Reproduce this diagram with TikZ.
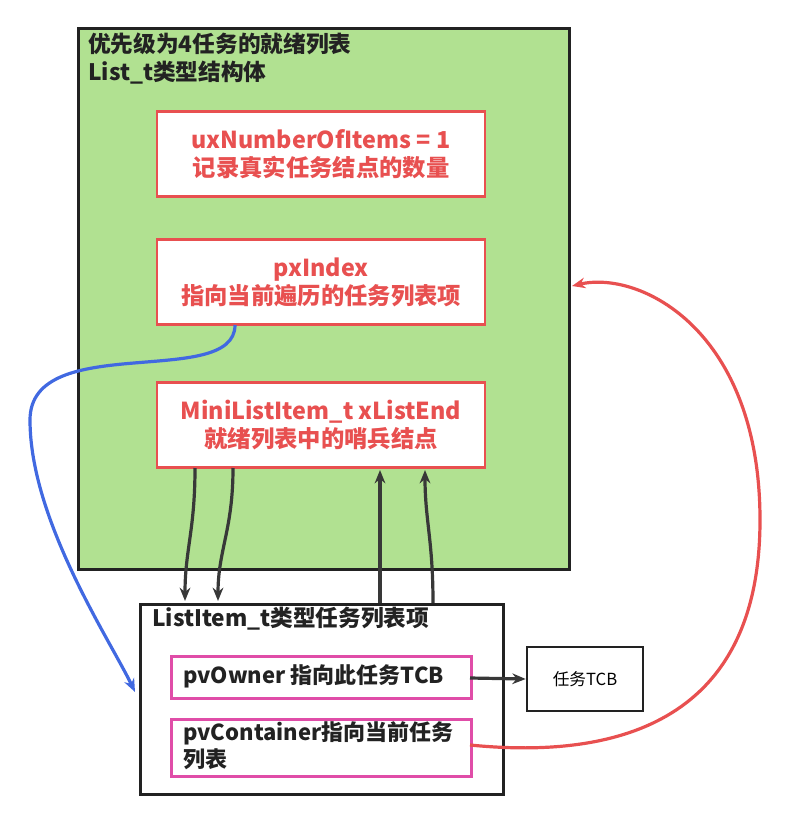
\documentclass[tikz,border=0pt]{standalone}
\usepackage{fontspec}
\setmainfont{Noto Sans CJK SC}
\usetikzlibrary{arrows.meta}
\definecolor{gfill}{HTML}{B1E191}
\definecolor{rbd}{HTML}{E85050}
\definecolor{pbd}{HTML}{E04DA8}
\definecolor{dk}{HTML}{222222}
\definecolor{bl}{HTML}{4169E1}
\begin{document}
\begin{tikzpicture}[x=0.75pt,y=-0.75pt,
 rbox/.style={draw=rbd,line width=2pt,fill=white,text=rbd,font=\bfseries\fontsize{17.5}{21}\selectfont,align=center,minimum width=246pt,minimum height=63.75pt,inner sep=0pt},
 arr/.style={line width=2.4pt,draw=dk!90,-{Stealth[length=10pt,width=8pt]}}]
\useasboundingbox (0,0) rectangle (786,827);
\node[draw=dk,line width=2.2pt,fill=gfill,minimum width=368.25pt,minimum height=405.75pt,anchor=north west,inner sep=0pt] (g) at (77,27) {};
\node[anchor=north west,align=left,font=\bfseries\fontsize{17}{20.5}\selectfont,text=dk,inner sep=0pt] (gt) at (88,33) {优先级为4任务的就绪列表\\List\_t类型结构体};
\node[rbox] (r1) at (321,154) {uxNumberOfItems = 1\\记录真实任务结点的数量};
\node[rbox] (r2) at (321,282) {pxIndex\\指向当前遍历的任务列表项};
\node[rbox] (r3) at (321,425) {MiniListItem\_t xListEnd\\就绪列表中的哨兵结点};
\node[draw=dk,line width=2pt,fill=white,minimum width=272.25pt,minimum height=142.5pt,anchor=north west,inner sep=0pt] (b) at (139,603) {};
\node[anchor=north west,font=\bfseries\fontsize{17}{20.5}\selectfont,text=dk,inner sep=0pt] (bt) at (152,607) {ListItem\_t类型任务列表项};
\node[draw=pbd,line width=2pt,minimum width=225pt,minimum height=31.5pt,anchor=north west,inner sep=0pt] (p1) at (170,655) {};
\node[anchor=west,font=\bfseries\fontsize{16.5}{20}\selectfont,text=dk,inner sep=0pt] (p1t) at (183,676) {pvOwner 指向此任务TCB};
\node[draw=pbd,line width=2pt,minimum width=225pt,minimum height=42.75pt,anchor=north west,inner sep=0pt] (p2) at (170,718) {};
\node[anchor=west,align=left,font=\bfseries\fontsize{16.5}{20}\selectfont,text=dk,inner sep=0pt] (p2t) at (183,746) {pvContainer指向当前任务\\列表};
\node[draw=dk,line width=2pt,minimum width=87pt,minimum height=48pt,font=\fontsize{12.5}{15}\selectfont] (tcb) at (585,679) {任务TCB};
\draw[arr] (195,468) .. controls (195,530) and (185,550) .. (185,601);
\draw[arr] (233,468) .. controls (233,530) and (218,550) .. (218,601);
\draw[arr] (380,603) -- (380,470);
\draw[arr] (433,603) .. controls (433,540) and (425,520) .. (425,470);
\draw[arr] (470,678) -- (tcb.west);
\draw[line width=2.4pt,bl,-{Stealth[length=10pt,width=8pt]}] (235,325) .. controls (235,390) and (30,330) .. (30,420) .. controls (30,520) and (110,640) .. (135,692);
\draw[line width=2.4pt,rbd,-{Stealth[length=10pt,width=8pt]}] (470,745) .. controls (620,760) and (760,720) .. (760,520) .. controls (760,330) and (640,270) .. (572,286);
\end{tikzpicture}
\end{document}
